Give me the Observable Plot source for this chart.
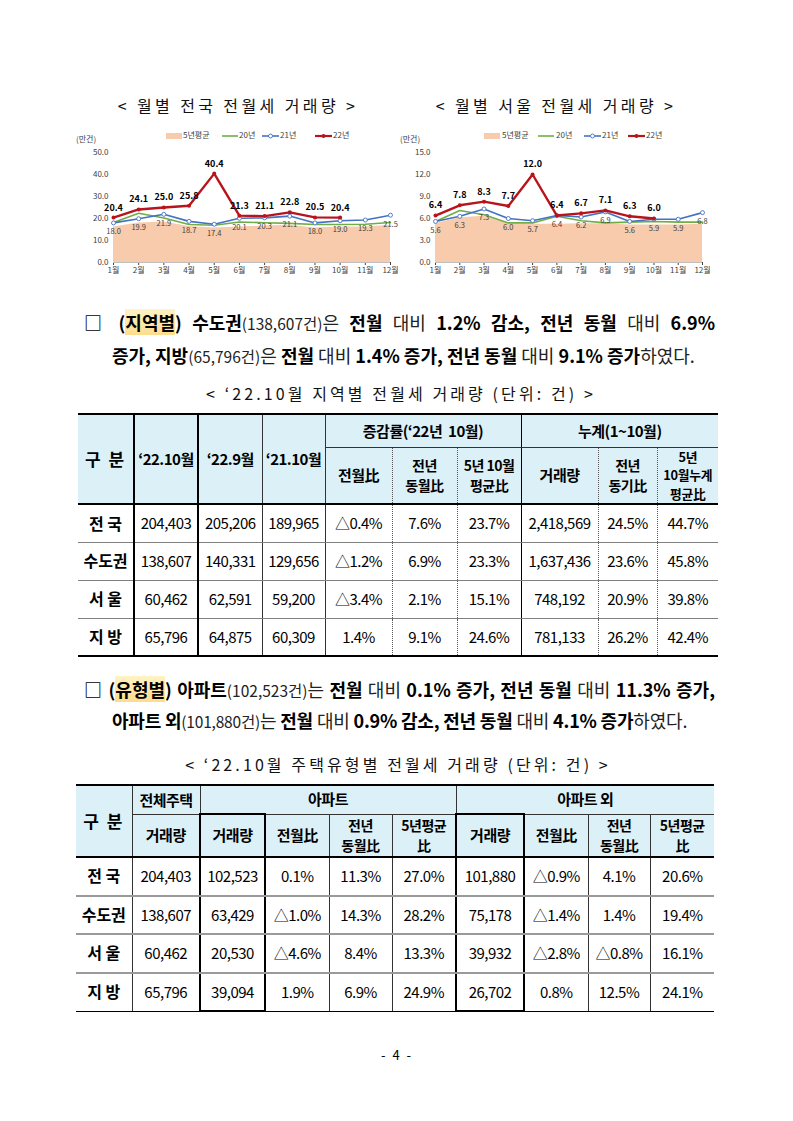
<!DOCTYPE html>
<html><head><meta charset="utf-8">
<script src="https://cdn.jsdelivr.net/npm/d3@7"></script>
<script src="https://cdn.jsdelivr.net/npm/@observablehq/plot@0.6"></script>
<style>
body{margin:0;background:#fff;font-family:"Noto Sans CJK KR","Noto Sans",sans-serif;color:#000;}
#page{position:relative;width:793px;height:1121px;overflow:hidden;background:#fff;}
.abs{position:absolute;white-space:nowrap;}
.ctitle{font-size:16px;line-height:20px;letter-spacing:3.4px;transform:translateX(-50%);color:#111;}
.cap{letter-spacing:3.1px;}
.unit{font-size:8px;line-height:10px;color:#404040;}
.leg{font-size:8px;line-height:10px;color:#404040;}
.para{font-size:18px;line-height:22px;}
.para .n{font-weight:400;font-size:15.5px;color:#222;}
.para .l{font-weight:400;color:#222;}
.hl{background:linear-gradient(#fff3c4,#fddc8e);}
table{border-collapse:collapse;table-layout:fixed;font-size:15px;letter-spacing:-0.5px;}
td,th{padding:0;text-align:center;vertical-align:middle;line-height:1.1;}
th{background:#dcf0f8;font-weight:700;}
th.ml{font-size:14px;line-height:1.45;}
th.ml3{font-size:12.8px;line-height:1.45;letter-spacing:-0.3px;}
td.h{font-weight:700;font-size:16px;letter-spacing:0;}
</style></head>
<body><div id="page"></div>
<script>
// ---------- chart data ----------
const monthLabels = ["1월","2월","3월","4월","5월","6월","7월","8월","9월","10월","11월","12월"];
const seriesNames = ["5년평균","20년","21년","22년"];
const natAvg5 = [16.1,17.9,18.4,16.4,15.7,16.1,16.6,16.9,15.7,16.1,16.1,16.9];
const nat20   = [18.2,22.4,20.2,17.3,16.9,18.4,18.1,17.8,17.3,17.3,17.4,18.2];
const nat21   = [18.0,19.9,21.9,18.7,17.4,20.1,20.3,21.1,18.0,19.0,19.3,21.5];
const nat22   = [20.4,24.1,25.0,25.8,40.4,21.3,21.1,22.8,20.5,20.4];
const seoAvg5 = [5.3,6.1,6.3,5.3,5.2,5.2,5.3,5.3,5.1,5.1,5.1,5.2];
const seo20   = [5.6,7.1,6.5,5.4,5.4,6.3,5.7,5.4,5.5,5.6,5.5,5.5];
const seo21   = [5.6,6.3,7.3,6.0,5.7,6.4,6.2,6.9,5.6,5.9,5.9,6.8];
const seo22   = [6.4,7.8,8.3,7.7,12.0,6.4,6.7,7.1,6.3,6.0];
const natTicks = [0,10,20,30,40,50];
const seoTicks = [0,3,6,9,12,15];

// ---------- table data ----------
const regions = ["전 국","수도권","서 울","지 방"];
const t1Oct22 = ["204,403","138,607","60,462","65,796"];
const t1Sep22 = ["205,206","140,331","62,591","64,875"];
const t1Oct21 = ["189,965","129,656","59,200","60,309"];
const t1MoM   = ["△0.4%","△1.2%","△3.4%","1.4%"];
const t1YoY   = ["7.6%","6.9%","2.1%","9.1%"];
const t1Avg5  = ["23.7%","23.3%","15.1%","24.6%"];
const t1Cum   = ["2,418,569","1,637,436","748,192","781,133"];
const t1CumYoY= ["24.5%","23.6%","20.9%","26.2%"];
const t1CumAvg= ["44.7%","45.8%","39.8%","42.4%"];
const t2All   = ["204,403","138,607","60,462","65,796"];
const t2Apt   = ["102,523","63,429","20,530","39,094"];
const t2AptMoM= ["0.1%","△1.0%","△4.6%","1.9%"];
const t2AptYoY= ["11.3%","14.3%","8.4%","6.9%"];
const t2AptAvg= ["27.0%","28.2%","13.3%","24.9%"];
const t2Oth   = ["101,880","75,178","39,932","26,702"];
const t2OthMoM= ["△0.9%","△1.4%","△2.8%","0.8%"];
const t2OthYoY= ["4.1%","1.4%","△0.8%","12.5%"];
const t2OthAvg= ["20.6%","19.4%","16.1%","24.1%"];

const COL = {avg:"#f8cbad", y20:"#70ad47", y21:"#4472c4", y22:"#b8141c"};
const page = document.getElementById("page");
function add(html, style, cls){
  const d = document.createElement("div");
  d.className = "abs " + (cls||"");
  d.style.cssText = style;
  d.innerHTML = html;
  page.appendChild(d);
  return d;
}

// ---------- charts ----------
function chart(avg, s20, s21, s22, ticks, opts){
  const X = (d,i)=>i;
  return Plot.plot({
    width: opts.width, height: 137,
    marginLeft: opts.ml, marginRight: opts.mr, marginTop: 7, marginBottom: 20,
    style:{fontFamily:'"Noto Sans CJK KR",sans-serif', fontSize:"8px", color:"#404040", background:"transparent"},
    x:{domain:[0,11], ticks:d3.range(12), tickFormat:i=>monthLabels[i], tickSize:3, tickPadding:2, label:null},
    y:{domain:[ticks[0], ticks[ticks.length-1]], ticks:ticks, tickFormat:d=>d.toFixed(1), tickSize:0, tickPadding:5, label:null},
    marks:[
      Plot.areaY(avg, {x:X, y:d=>d, fill:COL.avg}),
      Plot.ruleY([0], {stroke:"#bfbfbf"}),
      Plot.lineY(s20, {x:X, y:d=>d, stroke:COL.y20, strokeWidth:1.6}),
      Plot.lineY(s21, {x:X, y:d=>d, stroke:COL.y21, strokeWidth:1.6}),
      Plot.dot(s21, {x:X, y:d=>d, r:2, fill:"white", stroke:COL.y21, strokeWidth:0.9}),
      Plot.lineY(s22, {x:X, y:d=>d, stroke:COL.y22, strokeWidth:2.4}),
      Plot.dot(s22, {x:X, y:d=>d, r:2, fill:COL.y22}),
      Plot.text(s21, {x:X, y:d=>d, text:d=>d.toFixed(1), dy:9, fontSize:7.5, fill:"#404040"}),
      Plot.text(s22, {x:X, y:d=>d, text:d=>d.toFixed(1), dy:-10, fontSize:9, fontWeight:"bold", fill:"#000"})
    ]
  });
}
function legend(xs, y){
  add(`<svg width="16" height="6"><rect width="16" height="6" fill="${COL.avg}"/></svg>`, `left:${xs[0]}px;top:${y-3}px;line-height:0`);
  add(seriesNames[0], `left:${xs[1]}px;top:${y-5}px`, "leg");
  add(`<svg width="16" height="6"><line x1="0" x2="16" y1="3" y2="3" stroke="${COL.y20}" stroke-width="1.6"/></svg>`, `left:${xs[2]}px;top:${y-3}px;line-height:0`);
  add(seriesNames[1], `left:${xs[3]}px;top:${y-5}px`, "leg");
  add(`<svg width="17" height="6"><line x1="0" x2="17" y1="3" y2="3" stroke="${COL.y21}" stroke-width="1.6"/><circle cx="8.5" cy="3" r="2" fill="white" stroke="${COL.y21}" stroke-width="0.9"/></svg>`, `left:${xs[4]}px;top:${y-3}px;line-height:0`);
  add(seriesNames[2], `left:${xs[5]}px;top:${y-5}px`, "leg");
  add(`<svg width="17" height="6"><line x1="0" x2="17" y1="3" y2="3" stroke="${COL.y22}" stroke-width="2.2"/><circle cx="8.5" cy="3" r="2" fill="${COL.y22}"/></svg>`, `left:${xs[6]}px;top:${y-3}px;line-height:0`);
  add(seriesNames[3], `left:${xs[7]}px;top:${y-5}px`, "leg");
}

add("&lt; 월별 전국 전월세 거래량 &gt;", "left:238px;top:95px", "ctitle");
add("&lt; 월별 서울 전월세 거래량 &gt;", "left:556px;top:95px", "ctitle");
add("(만건)", "left:76px;top:134px", "unit");
add("(만건)", "left:400px;top:134px", "unit");
legend([166,183,222,239,262,280,315,333], 135);
legend([484,502,538,556,584,602,628,646], 135);

const c1 = chart(natAvg5, nat20, nat21, nat22, natTicks, {width:330, ml:38, mr:15});
const c2 = chart(seoAvg5, seo20, seo21, seo22, seoTicks, {width:330, ml:37, mr:26});
const h1 = add("", "left:75px;top:145px;line-height:0"); h1.appendChild(c1);
const h2 = add("", "left:398px;top:145px;line-height:0"); h2.appendChild(c2);

// ---------- paragraphs ----------
add(`□ (<span class="hl">지역별</span>) 수도권<span class="n">(138,607건)</span><span class="l">은</span> 전월 <span class="l">대비</span> 1.2% 감소, 전년 동월 <span class="l">대비</span> 6.9%`,
  "left:84px;top:311px;width:631px;white-space:normal;text-align:justify;text-align-last:justify;font-weight:700", "para");
add(`증가, 지방<span class="n">(65,796건)</span><span class="l">은</span> 전월 <span class="l">대비</span> 1.4% 증가, 전년 동월 <span class="l">대비</span> 9.1% 증가<span class="l">하였다.</span>`,
  "left:112px;top:344px;font-weight:700", "para");
add(`□ (<span class="hl">유형별</span>) 아파트<span class="n">(102,523건)</span><span class="l">는</span> 전월 <span class="l">대비</span> 0.1% 증가, 전년 동월 <span class="l">대비</span> 11.3% 증가,`,
  "left:84px;top:678px;width:631px;white-space:normal;text-align:justify;text-align-last:justify;font-weight:700", "para");
add(`아파트 외<span class="n">(101,880건)</span><span class="l">는</span> 전월 <span class="l">대비</span> 0.9% 감소, 전년 동월 <span class="l">대비</span> 4.1% 증가<span class="l">하였다.</span>`,
  "left:112px;top:709px;font-weight:700;letter-spacing:-0.2px", "para");

add("&lt; ‘22.10월 지역별 전월세 거래량 (단위: 건) &gt;", "left:401px;top:383px", "ctitle cap");
add("&lt; ‘22.10월 주택유형별 전월세 거래량 (단위: 건) &gt;", "left:398px;top:754px", "ctitle cap");

// ---------- table 1 ----------
const B = "2px solid #000", TH = "2.5px solid #000", THIN = "1px solid #333", DOT = "1px dotted #555", ROW = "1px solid #7f7f7f";
{
  const w = [56,64,64,63,67,65,64,77,59,61];
  let h = `<table style="width:640px"><colgroup>${w.map(x=>`<col style="width:${x}px">`).join("")}</colgroup>`;
  h += `<tr style="height:33px">
   <th rowspan="2" style="border-top:${B};border-bottom:${B};border-right:${THIN};font-size:17px;letter-spacing:2px">구 분</th>
   <th rowspan="2" style="border-top:${TH};border-bottom:${B};border-left:${TH};border-right:${TH}">‘22.10월</th>
   <th rowspan="2" style="border-top:${B};border-bottom:${B};border-right:${THIN}">‘22.9월</th>
   <th rowspan="2" style="border-top:${B};border-bottom:${B};border-right:${THIN}">‘21.10월</th>
   <th colspan="3" style="border-top:${B};border-bottom:${THIN};border-right:1.5px solid #000">증감률(‘22년&nbsp; 10월)</th>
   <th colspan="3" style="border-top:${B};border-bottom:${THIN}">누계(1~10월)</th></tr>`;
  h += `<tr style="height:56px">
   <th style="border-bottom:${B};border-right:${DOT}">전월比</th>
   <th class="ml" style="border-bottom:${B};border-right:${DOT}">전년<br>동월比</th>
   <th class="ml" style="border-bottom:${B};border-right:1.5px solid #000">5년 10월<br>평균比</th>
   <th style="border-bottom:${B};border-right:${DOT}">거래량</th>
   <th class="ml" style="border-bottom:${B};border-right:${DOT}">전년<br>동기比</th>
   <th class="ml3" style="border-bottom:${B}">5년<br>10월누계<br>평균比</th></tr>`;
  regions.forEach((r,i)=>{
    const last = i===regions.length-1;
    const bb = last ? B : ROW;
    const b2 = last ? TH : ROW;
    h += `<tr style="height:38px">
     <td class="h" style="border-bottom:${bb};border-right:${THIN}">${r}</td>
     <td style="border-bottom:${b2};border-left:${TH};border-right:${TH}">${t1Oct22[i]}</td>
     <td style="border-bottom:${bb};border-right:${THIN}">${t1Sep22[i]}</td>
     <td style="border-bottom:${bb};border-right:${THIN}">${t1Oct21[i]}</td>
     <td style="border-bottom:${bb};border-right:${DOT}">${t1MoM[i]}</td>
     <td style="border-bottom:${bb};border-right:${DOT}">${t1YoY[i]}</td>
     <td style="border-bottom:${bb};border-right:1.5px solid #000">${t1Avg5[i]}</td>
     <td style="border-bottom:${bb};border-right:${DOT}">${t1Cum[i]}</td>
     <td style="border-bottom:${bb};border-right:${DOT}">${t1CumYoY[i]}</td>
     <td style="border-bottom:${bb}">${t1CumAvg[i]}</td></tr>`;
  });
  h += `</table>`;
  add(h, "left:78px;top:413px");
}
// ---------- table 2 ----------
{
  const w = [56,68,65,64,63,64,68,64,62,64];
  const R2 = "2px solid #9a9a9a";
  let h = `<table style="width:638px"><colgroup>${w.map(x=>`<col style="width:${x}px">`).join("")}</colgroup>`;
  h += `<tr style="height:29px">
   <th rowspan="2" style="border-top:${B};border-bottom:${B};border-right:${THIN};font-size:17px;letter-spacing:2px">구 분</th>
   <th style="border-top:${B};border-bottom:${THIN};border-right:${THIN}">전체주택</th>
   <th colspan="4" style="border-top:${B};border-bottom:${THIN};border-right:${THIN}">아파트</th>
   <th colspan="4" style="border-top:${B};border-bottom:${THIN}">아파트 외</th></tr>`;
  h += `<tr style="height:43px">
   <th style="border-bottom:${B};border-right:${THIN}">거래량</th>
   <th style="border-bottom:${B};border-left:${TH};border-right:${TH};border-top:${TH}">거래량</th>
   <th style="border-bottom:${B};border-right:${THIN}">전월比</th>
   <th class="ml" style="border-bottom:${B};border-right:${THIN}">전년<br>동월比</th>
   <th class="ml" style="border-bottom:${B};border-right:${THIN}">5년평균<br>比</th>
   <th style="border-bottom:${B};border-left:${TH};border-right:${TH};border-top:${TH}">거래량</th>
   <th style="border-bottom:${B};border-right:${THIN}">전월比</th>
   <th class="ml" style="border-bottom:${B};border-right:${THIN}">전년<br>동월比</th>
   <th class="ml" style="border-bottom:${B}">5년평균<br>比</th></tr>`;
  regions.forEach((r,i)=>{
    const last = i===regions.length-1;
    const bb = last ? "1.5px solid #000" : R2;
    const b2 = last ? TH : R2;
    h += `<tr style="height:38.5px">
     <td class="h" style="border-bottom:${bb};border-right:${THIN}">${r}</td>
     <td style="border-bottom:${bb};border-right:${THIN}">${t2All[i]}</td>
     <td style="border-bottom:${b2};border-left:${TH};border-right:${TH}">${t2Apt[i]}</td>
     <td style="border-bottom:${bb};border-right:${THIN}">${t2AptMoM[i]}</td>
     <td style="border-bottom:${bb};border-right:${THIN}">${t2AptYoY[i]}</td>
     <td style="border-bottom:${bb};border-right:${THIN}">${t2AptAvg[i]}</td>
     <td style="border-bottom:${b2};border-left:${TH};border-right:${TH}">${t2Oth[i]}</td>
     <td style="border-bottom:${bb};border-right:${THIN}">${t2OthMoM[i]}</td>
     <td style="border-bottom:${bb};border-right:${THIN}">${t2OthYoY[i]}</td>
     <td style="border-bottom:${bb}">${t2OthAvg[i]}</td></tr>`;
  });
  h += `</table>`;
  add(h, "left:76px;top:784px");
}
add("- 4 -", "left:397px;top:1046px;font-size:13px;line-height:18px;transform:translateX(-50%);letter-spacing:2px", "");
</script>
</body></html>
